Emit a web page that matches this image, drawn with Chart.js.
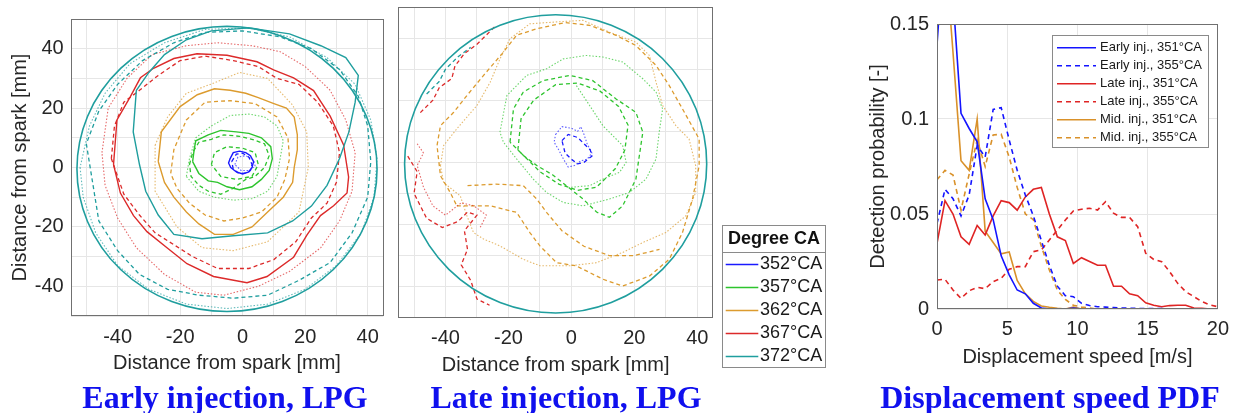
<!DOCTYPE html>
<html>
<head>
<meta charset="utf-8">
<script src="https://cdn.jsdelivr.net/npm/chart.js@4.4.1/dist/chart.umd.min.js"></script>
<style>
  body { margin: 0; background: #fff; width: 1237px; height: 413px; overflow: hidden; position: relative; }
  canvas { position: absolute; top: 0; }
  #earlyCanvas { left: 0; }
  #lateCanvas { left: 390px; }
  #pdfCanvas { left: 840px; }
  .cap { position: absolute; top: 379px; line-height: 32px; font: bold 32px "Liberation Serif", "Times New Roman", serif;
         color: #1010ee; white-space: nowrap; transform: translateX(-50%); }
</style>
</head>
<body>
<canvas id="earlyCanvas" width="400" height="413"></canvas>
<canvas id="lateCanvas" width="450" height="413"></canvas>
<canvas id="pdfCanvas" width="397" height="413"></canvas>
<div class="cap" style="left:225px">Early injection, LPG</div>
<div class="cap" style="left:566px">Late injection, LPG</div>
<div class="cap" style="left:1050px">Displacement speed PDF</div>
<script>
// ---- flame contour panels (mm) ----
const contourDegrees = ['352°CA', '357°CA', '362°CA', '367°CA', '372°CA'];
const contourGridTicks = [-50, -40, -30, -20, -10, 0, 10, 20, 30, 40, 50];
const contourLabelTicks = [-40, -20, 0, 20, 40];
const chamberCenter = [-5, -0.5];
const chamberRadius = 48;

// early injection
const e352s = [[-4,3],[-3,5],[-1,5.5],[1,5],[2.5,4],[3.5,2],[3,0],[2,-1.5],[0,-2.2],[-2,-1.5],[-3.8,0],[-4.5,1.5]];
const e352d = [[-3.5,2],[-2,4.5],[0,4.8],[2,3.5],[3,1],[2.5,-1],[0.5,-2],[-1.5,-1.8],[-3,-0.5]];
const e352t = [[-2.5,1],[-1.5,3.5],[1,4],[3.5,2.5],[4,0.5],[2,-1],[-0.5,-1]];
const e357s = [[-16,2],[-15.5,6],[-15,9],[-11,11],[-7,12.5],[-2,12],[2,11.5],[6,10],[9,7],[9.5,3],[8.5,-1],[6,-4],[3,-6.5],[-1,-7.5],[-5,-6.5],[-8,-5],[-11,-4.5],[-14,-2]];
const e357d = [[-17,1],[-16,5],[-14,8.5],[-10,9.5],[-6,11],[-1,10.5],[3,9.5],[7,8],[8.5,4],[7,0],[4,-3],[1,-4],[-3,-7],[-7,-9],[-11,-8],[-14,-6],[-16.5,-3]];
const e357d2 = [[-10,1],[-9,5],[-5,7],[0,6.5],[4,5],[5,1],[3,-3],[-2,-4],[-7,-3]];
const e357t = [[-18,-3],[-17,3],[-15,10],[-10,14],[-4,17.5],[2,18],[7,17],[11,14],[13,9],[12,3],[11,-3],[8,-8],[3,-10.5],[-3,-11],[-9,-10],[-14,-8]];
const e362s = [[-27,2],[-26,12],[-20,20.5],[-14.5,24.5],[-9,26.5],[-4,26],[1,25],[5,23.5],[10,21.5],[14,20],[16.5,17],[17.5,11],[17.5,6],[16.5,0],[16,-5],[13,-10],[8,-15],[3,-20],[-3,-22.5],[-9,-22.5],[-14,-19],[-18,-15],[-22,-10],[-25,-5]];
const e362d = [[-23,-2],[-22,6],[-18,16],[-12,22],[-4,22.5],[4,21.5],[11,17],[14.5,10],[15,3],[13.5,-4],[11,-10],[6,-15],[0,-17],[-6,-18],[-12,-16],[-17,-12],[-21,-7]];
const e362t = [[-28,7.5],[-24,17],[-18,25],[-9,28.5],[-1,32],[8,30],[16,21],[20.5,12],[21,0],[18,-15],[8,-25],[-3,-28],[-13,-27],[-21,-20],[-28,-8]];
const e367s = [[-41.3,1],[-40.2,16],[-36,23.7],[-32.7,30.2],[-28.5,33.4],[-22,36.7],[-14.6,38.3],[-5,37.8],[4.6,35.6],[9.9,32.9],[16.3,30.2],[22.7,25.9],[28,17.3],[32.3,7.6],[33.9,-3.2],[33.4,-8.6],[29.1,-12.9],[24.9,-16.2],[20.6,-22.7],[16.3,-30.2],[7.8,-36.7],[1.4,-38.8],[-9.3,-36.7],[-17.8,-32.4],[-24.2,-27],[-30.6,-21.6],[-34.9,-16.2],[-39.1,-8.6]];
const e367d = [[-42,3],[-41,14],[-38,22],[-33,26],[-27,31],[-20,36],[-12,37.5],[-3,36],[5,34],[11,30],[18,28],[24,22],[29,14],[31,5],[30,-5],[27,-12],[22,-17],[17,-25],[10,-31],[2,-34],[-8,-34],[-16,-30],[-22,-26],[-28,-22],[-33,-16],[-38,-9]];
const e367t = [[-45,5],[-43,20],[-37,30],[-29,38],[-18,41],[-8,42],[3,41],[12,39],[20,34],[28,26],[33,16],[36,5],[35,-8],[31,-18],[25,-27],[15,-35],[5,-40],[-6,-43],[-15,-42],[-25,-36],[-34,-27],[-40,-17],[-44,-6]];
const e372s = [[-34,26],[-35,12],[-33,1],[-31,-8],[-27,-16],[-22,-22.5],[-13,-24],[-3,-23],[8,-22],[16,-18],[22,-13],[27,-6],[31,3],[34,12],[36,22],[37,31],[33,37],[25,41],[15,45],[2,47],[-10,46],[-18,43],[-25,38],[-30,32]];
const e372d = [[-50,8],[-48,-5],[-46,-18],[-40,-28],[-33,-36],[-24,-41],[-14,-43],[-3,-44],[8,-43],[18,-38],[28,-32],[35,-22],[40,-10],[41,2],[40,14],[37,24],[31,33],[22,40],[12,44],[0,46],[-12,45.5],[-22,42],[-32,36],[-40,28],[-46,19]];
const e372t = [[-52,0],[-51,-10],[-47,-22],[-40,-33],[-30,-41],[-18,-46],[-5,-47.5],[8,-46],[20,-41],[30,-33],[38,-22],[42,-10],[43,3],[41,16],[36,28],[27,37],[15,44],[2,47],[-12,46.5],[-25,42],[-36,35],[-44,25],[-49,14]];

// late injection
const l352s = [[-5,9],[-3,11.5],[0,11],[2,10],[3,11.5],[4,9],[5,6],[6.5,3],[5,1],[3,0.5],[1,-1],[-1,-1.5],[-2.5,1],[-4,4],[-5.5,6.5]];
const l352d = [[-3,7],[-1,9],[2,8],[4,6],[6,4],[6.5,2],[4,0],[2,-0.5],[0,1],[-2,3]];
const l357t = [[-22.7,9.7],[-20.5,21.5],[-14.2,28],[-7.9,30.1],[-2.6,33.3],[4.7,34.4],[10,33.9],[16.3,32.3],[22.7,26.9],[26.9,22.6],[29,17.2],[27.9,9.7],[26.9,1.1],[23.7,-5.4],[18.4,-9.7],[12.1,-11.8],[3.7,-14],[-2.6,-12.9],[-7.9,-9.7],[-12.1,-5.4],[-17.4,1.1],[-21.6,6.5]];
const l357d = [[-19.5,6.5],[-18.4,17.2],[-15.3,22.6],[-9,26.3],[-0.5,28],[6.8,26.3],[14.2,20.4],[20.5,16.1],[22.7,9.7],[21.6,2.2],[20.5,-5.4],[16.3,-14],[12.1,-17.7],[8,-16],[3.7,-11.8],[-1.6,-7.5],[-6,-4],[-11,-1],[-15,2]];
const l357d2 = [[-17,4],[-16,14],[-12,20],[-5,25],[2,25.5],[9,23],[15,18],[18,12],[17,4],[14,-2],[8,-8],[2,-9],[-4,-7],[-10,-3]];
const l357i = [[1.6,24.7],[5.8,18.3],[10,11.8],[16.3,5.4],[17.4,0],[15.3,-3.2],[10,-5.4],[5.8,-7.5],[0,-8]];
const l362t = [[-41.6,-1.1],[-40.6,5.4],[-36.4,10.8],[-30,18.3],[-25.8,25.8],[-22.7,33.3],[-19.5,39.8],[-13.2,44.6],[-4.7,45.2],[3.7,45.7],[12.1,41.9],[20.5,38.7],[24.8,34.4],[26.9,25.8],[29,18.3],[33.2,11.8],[37.4,7.5],[39.5,-1.1],[39.5,-9.7],[36.4,-17.2],[30,-22.6],[22.7,-25.8],[16.3,-29],[7.9,-32.3],[-0.5,-33.3],[-10,-33.3],[-15.3,-31.2],[-22.7,-26.9],[-27.9,-24.7],[-31.1,-22.6],[-33.2,-17.2],[-35.3,-10.8],[-40.6,-6.5]];
const l362d = [[-36.4,-14],[-25.8,-14],[-17.4,-16.1],[-13.2,-22.6],[-10,-26.9],[-4.7,-32.3],[1.5,-33.3],[10,-37.6],[16.3,-39.8],[24.8,-36.6],[31.1,-31.2],[35.3,-22.6],[38.5,-11.8],[40.6,-1.1],[40.6,7.5],[35.3,17.2],[31.1,24.7],[26.9,31.2],[20.5,37.6],[14.2,40.9],[5.8,44.1],[-2,45],[-11,43],[-17.4,40.9],[-22,35],[-27.9,28],[-33.2,21.5],[-37.4,16.1],[-41.6,11.8],[-42.7,5.4],[-41.6,-4.3],[-38.5,-9.7]];
const l362d2 = [[-33,-7.5],[-24,-7],[-15.3,-7.5],[-11,-11.8],[-7.9,-16.1],[-3,-22],[4,-27],[12,-30],[20,-30],[28,-28]];
const l367d = [[-52,2],[-49,-3],[-50,-10],[-46,-18],[-41,-21],[-36,-19],[-33,-16],[-30,-17],[-34,-22],[-33,-28],[-35,-33],[-32,-38],[-30,-44],[-26,-46]];
const l367t = [[-49,6],[-47,3],[-49,-1],[-47,-8],[-44,-14],[-40,-17],[-35,-13],[-31,-14],[-27,-17],[-29,-21]];
const l367d2 = [[-48,16],[-44,20],[-42,24],[-38,27],[-37,31],[-34,35],[-30,38],[-27,41],[-24,44]];
const l372d = [[-46,22],[-42,26],[-40,30],[-36,34],[-32,37]];

// ---- displacement speed PDF ----
const speed = [0, 0.57, 1.14, 1.71, 2.29, 2.86, 3.43, 4.0, 4.57, 5.14, 5.71, 6.29, 6.86, 7.43, 8.0, 8.57, 9.14, 9.71,
  10.29, 10.86, 11.43, 12.0, 12.57, 13.14, 13.71, 14.29, 14.86, 15.43, 16.0, 16.57, 17.14, 17.71, 18.29, 18.86, 19.43, 20.0];
const earlyInj351 = [0.139, 0.2, 0.164, 0.103, 0.095, 0.088, 0.058, 0.047, 0.028, 0.018, 0.010, 0.008, 0.003, 0.0005, 0, 0, 0, 0.0005,
  0, 0, 0, 0, 0, 0, 0, 0, 0, 0, 0, 0, 0, 0, 0, 0, 0, 0];
const earlyInj355 = [0.045, 0.063, 0.058, 0.049, 0.060, 0.086, 0.080, 0.105, 0.106, 0.089, 0.073, 0.060, 0.049, 0.036, 0.023, 0.012, 0.007, 0.0065,
  0.003, 0.0018, 0.0012, 0.001, 0.0008, 0.0005, 0.0004, 0.0003, 0.0003, 0.0002, 0.0002, 0.0001, 0.0001, 0, 0, 0, 0, 0];
const lateInj351 = [0.0346, 0.057, 0.050, 0.038, 0.034, 0.044, 0.039, 0.049, 0.057, 0.056, 0.052, 0.059, 0.063, 0.064, 0.050, 0.038, 0.036, 0.024,
  0.027, 0.025, 0.023, 0.023, 0.012, 0.012, 0.008, 0.007, 0.0033, 0.002, 0.0012, 0.0018, 0.002, 0.002, 0.0005, 0.0004, 0, 0];
const lateInj355 = [0.0153, 0.0156, 0.0100, 0.0056, 0.0096, 0.0114, 0.0107, 0.0144, 0.0161, 0.0209, 0.0223, 0.0223, 0.0302, 0.0311, 0.0363, 0.0416, 0.0468, 0.0516,
  0.0525, 0.0530, 0.0521, 0.0565, 0.0504, 0.0482, 0.0482, 0.0433, 0.0293, 0.0261, 0.0249, 0.0196, 0.0135, 0.0091, 0.0065, 0.0039, 0.0021, 0.0012];
const midInj351 = [0.22, 0.19, 0.135, 0.078, 0.073, 0.100, 0.041, 0.035, 0.029, 0.030, 0.015, 0.008, 0.004, 0.0016, 0.0009, 0.0004, 0, 0.001,
  0, 0, 0, 0, 0, 0, 0, 0, 0, 0, 0, 0, 0, 0, 0, 0, 0, 0];
const midInj355 = [0.068, 0.073, 0.0705, 0.052, 0.071, 0.089, 0.075, 0.0916, 0.092, 0.080, 0.064, 0.050, 0.047, 0.033, 0.0205, 0.010, 0.005, 0.002,
  0.001, 0.0005, 0, 0, 0, 0, 0, 0, 0, 0, 0, 0, 0, 0, 0, 0, 0, 0];
const pdfXTicks = [0, 5, 10, 15, 20];
const pdfYTicks = [0, 0.05, 0.1, 0.15];

// ---- styling ----
const FONT = "'Liberation Sans', Arial, Helvetica, sans-serif";
const TEXT = '#262626';
const GRID = '#e6e6e6';
const degreeColors = ['#1a1aff', '#2dc42d', '#dc9b2e', '#dc2a2a', '#1f9e9e'];
const lineStyles = {
  solid: { width: 1.4, dash: [], alpha: 1 },
  dash: { width: 1.3, dash: [4, 3], alpha: 1 },
  dot: { width: 1.1, dash: [1.5, 1.8], alpha: 0.7 }
};

Chart.defaults.font.family = FONT;
Chart.defaults.color = TEXT;

function withAlpha(hex, a) {
  const n = parseInt(hex.slice(1), 16);
  return `rgba(${n >> 16},${(n >> 8) & 255},${n & 255},${a})`;
}

function contourDatasets(traces) {
  return traces.map(t => {
    const pts = t.pts.map(([x, y]) => ({ x, y }));
    if (t.closed !== false) pts.push({ ...pts[0] });
    const st = lineStyles[t.style];
    return {
      data: pts,
      showLine: true,
      pointRadius: 0,
      borderColor: withAlpha(degreeColors[t.deg], st.alpha),
      borderWidth: st.width,
      borderDash: st.dash,
      tension: 0,
      clip: 0
    };
  });
}

const framePlugin = {
  id: 'frame',
  afterDraw(chart, args, o) {
    const { left, top, right, bottom } = chart.chartArea;
    const ctx = chart.ctx;
    ctx.save();
    ctx.strokeStyle = o.color || '#707070';
    ctx.lineWidth = 1;
    ctx.strokeRect(Math.round(left) + 0.5, Math.round(top) + 0.5, Math.round(right - left) - 1, Math.round(bottom - top) - 1);
    ctx.restore();
  }
};

const chamberPlugin = {
  id: 'chamber',
  afterDatasetsDraw(chart, args, o) {
    if (!o || o.r == null) return;
    const xs = chart.scales.x, ys = chart.scales.y;
    const px = xs.getPixelForValue(o.cx), py = ys.getPixelForValue(o.cy);
    const rx = Math.abs(xs.getPixelForValue(o.cx + o.r) - px);
    const ry = Math.abs(ys.getPixelForValue(o.cy + o.r) - py);
    const ctx = chart.ctx;
    ctx.save();
    ctx.strokeStyle = o.color;
    ctx.lineWidth = 1.6;
    ctx.beginPath();
    ctx.ellipse(px, py, rx, ry, 0, 0, Math.PI * 2);
    ctx.stroke();
    ctx.restore();
  }
};

const boxLegendPlugin = {
  id: 'boxLegend',
  afterDraw(chart, args, o) {
    if (!o || !o.items) return;
    const ctx = chart.ctx;
    ctx.save();
    ctx.fillStyle = '#fff';
    ctx.fillRect(o.left, o.top, o.width, o.height);
    ctx.strokeStyle = '#8a8a8a';
    ctx.lineWidth = 1;
    ctx.strokeRect(o.left + 0.5, o.top + 0.5, o.width - 1, o.height - 1);
    if (o.title) {
      ctx.font = o.titleFont;
      ctx.fillStyle = '#111';
      ctx.textAlign = 'center';
      ctx.textBaseline = 'middle';
      ctx.fillText(o.title, o.left + o.width / 2, o.titleY);
      ctx.beginPath();
      ctx.moveTo(o.left, o.dividerY + 0.5);
      ctx.lineTo(o.left + o.width, o.dividerY + 0.5);
      ctx.stroke();
    }
    ctx.font = o.font;
    ctx.textAlign = 'left';
    ctx.textBaseline = 'middle';
    for (let i = 0; i < o.items.length; i++) {
      const it = o.items[i];
      const y = o.rowTop + i * o.rowStep;
      ctx.strokeStyle = it.color;
      ctx.lineWidth = o.lineWidth;
      ctx.setLineDash(it.dash ? Array.from(it.dash) : []);
      ctx.beginPath();
      ctx.moveTo(o.lineX0, y);
      ctx.lineTo(o.lineX1, y);
      ctx.stroke();
      ctx.setLineDash([]);
      ctx.fillStyle = '#1a1a1a';
      ctx.fillText(it.label, o.textX, y);
    }
    ctx.restore();
  }
};

function contourOptions(box, showY, legend) {
  return {
    responsive: false,
    animation: false,
    devicePixelRatio: 1,
    layout: { padding: box.padding },
    plugins: {
      legend: { display: false },
      tooltip: { enabled: false },
      chamber: { cx: chamberCenter[0], cy: chamberCenter[1], r: chamberRadius, color: degreeColors[4] },
      boxLegend: legend || {}
    },
    scales: {
      x: {
        type: 'linear', min: -55, max: 45,
        afterBuildTicks: s => { s.ticks = contourGridTicks.slice(0, -1).map(v => ({ value: v })); },
        afterFit: s => { s.height = box.xHeight; },
        grid: { color: GRID, drawTicks: false },
        border: { display: false },
        ticks: { padding: box.xTickPad, font: { size: 20 }, color: TEXT, maxRotation: 0, autoSkip: false,
          callback: v => contourLabelTicks.includes(v) ? String(v) : '' },
        title: { display: true, text: 'Distance from spark [mm]', font: { size: 20 }, color: TEXT, padding: { top: 0, bottom: 0 } }
      },
      y: {
        type: 'linear', min: -50, max: 50,
        afterBuildTicks: s => { s.ticks = contourGridTicks.map(v => ({ value: v })); },
        afterFit: s => { s.width = box.yWidth; },
        grid: { color: GRID, drawTicks: false },
        border: { display: false },
        ticks: { display: showY, padding: 7, font: { size: 20 }, color: TEXT, autoSkip: false,
          callback: v => contourLabelTicks.includes(v) ? String(v) : '' },
        title: { display: showY, text: 'Distance from spark [mm]', font: { size: 20 }, color: TEXT, padding: { top: 8, bottom: 0 } }
      }
    }
  };
}

const earlyTraces = [
  { pts: e372t, deg: 4, style: 'dot' }, { pts: e372d, deg: 4, style: 'dash' }, { pts: e372s, deg: 4, style: 'solid' },
  { pts: e367t, deg: 3, style: 'dot' }, { pts: e367d, deg: 3, style: 'dash' }, { pts: e367s, deg: 3, style: 'solid' },
  { pts: e362t, deg: 2, style: 'dot' }, { pts: e362d, deg: 2, style: 'dash' }, { pts: e362s, deg: 2, style: 'solid' },
  { pts: e357t, deg: 1, style: 'dot' }, { pts: e357d, deg: 1, style: 'dash' }, { pts: e357d2, deg: 1, style: 'dash' },
  { pts: e357s, deg: 1, style: 'solid' },
  { pts: e352t, deg: 0, style: 'dot' }, { pts: e352d, deg: 0, style: 'dash' }, { pts: e352s, deg: 0, style: 'solid' }
];

const lateTraces = [
  { pts: l372d, deg: 4, style: 'dash', closed: false },
  { pts: l367d, deg: 3, style: 'dash', closed: false }, { pts: l367t, deg: 3, style: 'dot', closed: false },
  { pts: l367d2, deg: 3, style: 'dash', closed: false },
  { pts: l362t, deg: 2, style: 'dot' }, { pts: l362d, deg: 2, style: 'dash' }, { pts: l362d2, deg: 2, style: 'dash', closed: false },
  { pts: l357t, deg: 1, style: 'dot' }, { pts: l357d, deg: 1, style: 'dash' }, { pts: l357d2, deg: 1, style: 'dash' },
  { pts: l357i, deg: 1, style: 'dot', closed: false },
  { pts: l352d, deg: 0, style: 'dash' }, { pts: l352s, deg: 0, style: 'dot' }
];

new Chart(document.getElementById('earlyCanvas'), {
  type: 'scatter',
  data: { datasets: contourDatasets(earlyTraces) },
  options: contourOptions({ padding: { left: 0, top: 8.7, right: 16.7, bottom: 38 }, xHeight: 59, xTickPad: 9, yWidth: 70.7 }, true),
  plugins: [framePlugin, chamberPlugin]
});

new Chart(document.getElementById('lateCanvas'), {
  type: 'scatter',
  data: { datasets: contourDatasets(lateTraces) },
  options: contourOptions({ padding: { left: 0, top: 7, right: 127, bottom: 35.3 }, xHeight: 60, xTickPad: 8.3, yWidth: 8.3 }, false, {
    left: 332, top: 225, width: 104, height: 143,
    title: 'Degree CA', titleFont: `bold 18px ${FONT}`, titleY: 239.5, dividerY: 252,
    font: `18px ${FONT}`, rowTop: 264.5, rowStep: 23, lineX0: 335.7, lineX1: 368.3, textX: 370, lineWidth: 1.3,
    items: contourDegrees.map((label, i) => ({ label, color: degreeColors[i], dash: [] }))
  }),
  plugins: [framePlugin, chamberPlugin, boxLegendPlugin]
});

// ---- PDF panel ----
const pdfSeries = [
  { label: 'Early inj., 351°CA', values: earlyInj351, color: '#1414ff', dash: [] },
  { label: 'Early inj., 355°CA', values: earlyInj355, color: '#1414ff', dash: [5, 4] },
  { label: 'Late inj., 351°CA', values: lateInj351, color: '#df2424', dash: [] },
  { label: 'Late inj., 355°CA', values: lateInj355, color: '#df2424', dash: [5, 4] },
  { label: 'Mid. inj., 351°CA', values: midInj351, color: '#d9912a', dash: [] },
  { label: 'Mid. inj., 355°CA', values: midInj355, color: '#d9912a', dash: [5, 4] }
];

new Chart(document.getElementById('pdfCanvas'), {
  type: 'line',
  data: {
    datasets: pdfSeries.map(s => ({
      label: s.label,
      data: s.values.map((v, i) => ({ x: speed[i], y: v })),
      borderColor: s.color,
      borderDash: s.dash,
      borderWidth: 1.6,
      pointRadius: 0,
      tension: 0,
      clip: 0
    }))
  },
  options: {
    responsive: false,
    animation: false,
    devicePixelRatio: 1,
    layout: { padding: { left: 0, top: 24, right: 17, bottom: 44 } },
    plugins: {
      legend: { display: false },
      tooltip: { enabled: false },
      boxLegend: {
        left: 212, top: 35, width: 157, height: 113,
        font: `13px ${FONT}`, rowTop: 47.7, rowStep: 18, lineX0: 217, lineX1: 256, textX: 260, lineWidth: 1.5,
        items: pdfSeries.map(s => ({ label: s.label, color: s.color, dash: s.dash }))
      }
    },
    scales: {
      x: {
        type: 'linear', min: 0, max: 20,
        afterBuildTicks: s => { s.ticks = pdfXTicks.map(v => ({ value: v })); },
        afterFit: s => { s.height = 60; },
        grid: { color: GRID, drawTicks: false },
        border: { display: false },
        ticks: { padding: 8, font: { size: 20 }, color: TEXT, maxRotation: 0, autoSkip: false, callback: v => String(v) },
        title: { display: true, text: 'Displacement speed [m/s]', font: { size: 20 }, color: TEXT, padding: { top: 0, bottom: 0 } }
      },
      y: {
        type: 'linear', min: 0, max: 0.15,
        afterBuildTicks: s => { s.ticks = pdfYTicks.map(v => ({ value: v })); },
        afterFit: s => { s.width = 97; },
        grid: { color: GRID, drawTicks: false },
        border: { display: false },
        ticks: { padding: 8, font: { size: 20 }, color: TEXT, autoSkip: false, callback: v => String(v) },
        title: { display: true, text: 'Detection probability [-]', font: { size: 20 }, color: TEXT, padding: { top: 26, bottom: 0 } }
      }
    }
  },
  plugins: [framePlugin, boxLegendPlugin]
});
</script>
</body>
</html>
